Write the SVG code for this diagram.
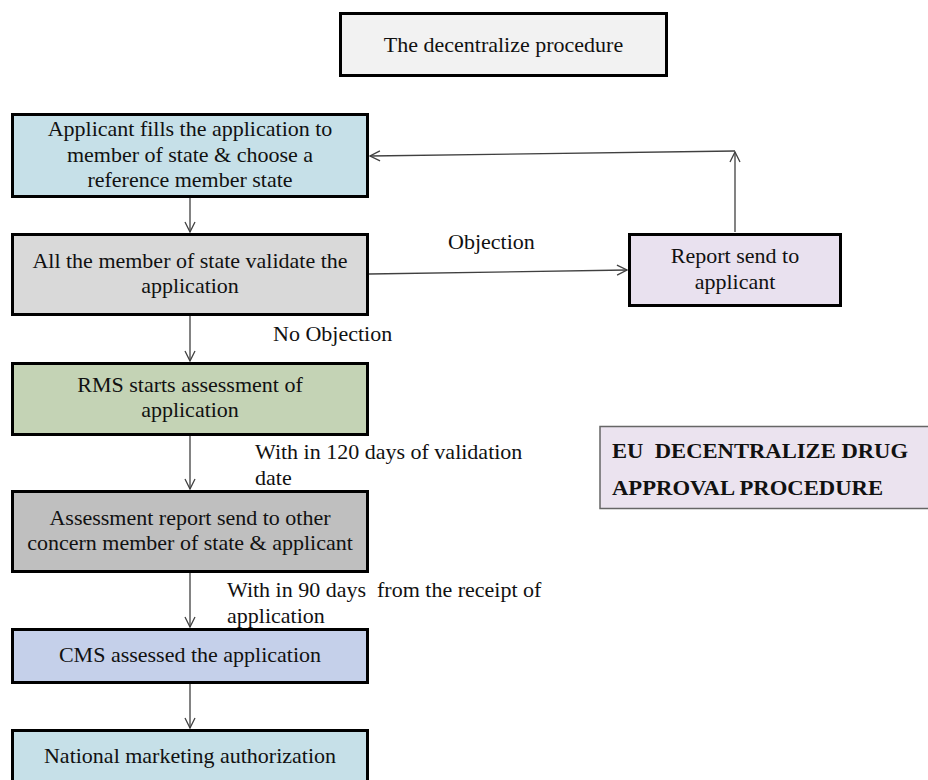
<svg xmlns="http://www.w3.org/2000/svg" width="928" height="780" viewBox="0 0 928 780">
<style>
.box{stroke:#000;stroke-width:3}
.t{font-family:"Liberation Serif","Times New Roman",serif;font-size:22px;fill:#111;text-anchor:middle}
.l{font-family:"Liberation Serif","Times New Roman",serif;font-size:22px;fill:#111}
.b{font-family:"Liberation Serif","Times New Roman",serif;font-size:20px;font-weight:bold;fill:#111}
.c{fill:none;stroke:#404040;stroke-width:1.3}
</style>
<defs>
<marker id="ah" viewBox="0 0 12 12" refX="11" refY="6" markerWidth="12" markerHeight="12" markerUnits="userSpaceOnUse" orient="auto">
<polyline points="1,1 11,6 1,11" fill="none" stroke="#404040" stroke-width="1.3"/>
</marker>
</defs>
<rect width="928" height="780" fill="#fff"/>
<g id="title">
<rect class="box" x="340.5" y="13.5" width="326" height="62" fill="#f2f2f2"/>
<text class="t" x="503.5" y="52">The decentralize procedure</text>
</g>
<g id="connectors">
<line class="c" x1="190" y1="197" x2="190" y2="232" marker-end="url(#ah)"/>
<line class="c" x1="190" y1="315" x2="190" y2="361" marker-end="url(#ah)"/>
<line class="c" x1="190" y1="436" x2="190" y2="489" marker-end="url(#ah)"/>
<line class="c" x1="190" y1="573" x2="190" y2="627" marker-end="url(#ah)"/>
<line class="c" x1="190" y1="683" x2="190" y2="728" marker-end="url(#ah)"/>
<line class="c" x1="369" y1="274" x2="627" y2="270" marker-end="url(#ah)"/>
<line class="c" x1="735" y1="232" x2="735" y2="152" marker-end="url(#ah)"/>
<line class="c" x1="735" y1="151" x2="370" y2="156" marker-end="url(#ah)"/>
<text class="l" x="448" y="249">Objection</text>
<text class="l" x="273" y="341">No Objection</text>
<text class="l" x="255" y="459">With in 120 days of validation</text>
<text class="l" x="255" y="485">date</text>
<text class="l" x="227" y="597" xml:space="preserve">With in 90 days  from the receipt of</text>
<text class="l" x="227" y="623">application</text>
</g>
<g id="n1">
<rect class="box" x="12.5" y="114.5" width="355" height="82" fill="#c6e0e8"/>
<text class="t" x="190" y="136">Applicant fills the application to</text>
<text class="t" x="190" y="162">member of state &amp; choose a</text>
<text class="t" x="190" y="187">reference member state</text>
</g>
<g id="n2">
<rect class="box" x="12.5" y="234.5" width="355" height="80" fill="#d9d9d9"/>
<text class="t" x="190" y="268">All the member of state validate the</text>
<text class="t" x="190" y="293">application</text>
</g>
<g id="n3">
<rect class="box" x="12.5" y="363.5" width="355" height="71" fill="#c4d3b5"/>
<text class="t" x="190" y="392">RMS starts assessment of</text>
<text class="t" x="190" y="417">application</text>
</g>
<g id="n4">
<rect class="box" x="12.5" y="491.5" width="355" height="80" fill="#bfbfbf"/>
<text class="t" x="190" y="525">Assessment report send to other</text>
<text class="t" x="190" y="550">concern member of state &amp; applicant</text>
</g>
<g id="n5">
<rect class="box" x="12.5" y="629.5" width="355" height="53" fill="#c5d0ea"/>
<text class="t" x="190" y="662">CMS assessed the application</text>
</g>
<g id="n6">
<rect class="box" x="12.5" y="730.5" width="355" height="60" fill="#c6e0e8"/>
<text class="t" x="190" y="763">National marketing authorization</text>
</g>
<g id="report">
<rect class="box" x="629.5" y="234.5" width="211" height="71" fill="#e9e1ef"/>
<text class="t" x="735" y="263">Report send to</text>
<text class="t" x="735" y="289">applicant</text>
</g>
<g id="legend">
<rect x="600" y="426.5" width="340" height="82" fill="#ebe3ef" stroke="#666" stroke-width="1.5"/>
<text class="b" x="612" y="458" xml:space="preserve" textLength="296" lengthAdjust="spacingAndGlyphs">EU  DECENTRALIZE DRUG</text>
<text class="b" x="612" y="495" textLength="271" lengthAdjust="spacingAndGlyphs">APPROVAL PROCEDURE</text>
</g>
</svg>
